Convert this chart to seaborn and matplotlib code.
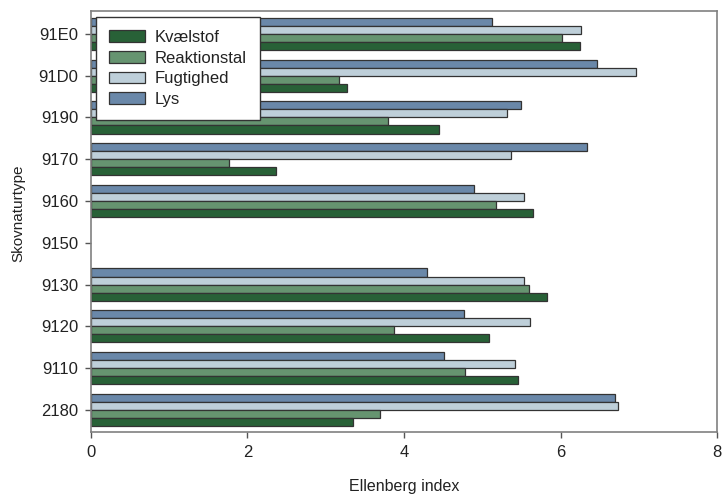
import numpy as np
import pandas as pd
import matplotlib
matplotlib.use("Agg")
import matplotlib.pyplot as plt
import seaborn as sns

# habitat types, top to bottom
types = ["91E0", "91D0", "9190", "9170", "9160", "9150", "9130", "9120", "9110", "2180"]

kvaelstof = [6.25, 3.27, 4.45, 2.36, 5.65, np.nan, 5.83, 5.09, 5.46, 3.35]
reaktionstal = [6.02, 3.17, 3.79, 1.76, 5.18, np.nan, 5.60, 3.87, 4.78, 3.69]
fugtighed = [6.26, 6.96, 5.31, 5.37, 5.53, np.nan, 5.53, 5.61, 5.42, 6.73]
lys = [5.12, 6.47, 5.49, 6.34, 4.89, np.nan, 4.29, 4.77, 4.51, 6.70]

series = ["Kvælstof", "Reaktionstal", "Fugtighed", "Lys"]
colors = {"Kvælstof": "#1f6a33", "Reaktionstal": "#5e9c6c",
          "Fugtighed": "#b9d0de", "Lys": "#5f88b3"}

df = pd.DataFrame({"Skovnaturtype": types, "Kvælstof": kvaelstof,
                   "Reaktionstal": reaktionstal, "Fugtighed": fugtighed, "Lys": lys})
long = df.melt(id_vars="Skovnaturtype", var_name="Serie", value_name="Ellenberg")

sns.set_style("white")
plt.rcParams["font.family"] = ["Liberation Sans", "DejaVu Sans"]
plt.rcParams["text.color"] = "#222222"

fig = plt.figure(figsize=(7.25, 4.96), dpi=100)
ax = fig.add_axes([0.1255, 0.129, 0.8635, 0.849])

sns.barplot(data=long, x="Ellenberg", y="Skovnaturtype", hue="Serie",
            order=types, hue_order=series[::-1], palette=colors,
            orient="h", width=0.77, edgecolor="#333333", linewidth=0.9,
            errorbar=None, ax=ax)

ax.set_xlim(0, 8)
ax.set_ylim(9.53, -0.55)
ax.set_xticks([0, 2, 4, 6, 8])
ax.set_xlabel("Ellenberg index", fontsize=11.5, labelpad=14, color="#222222")
ax.set_ylabel("Skovnaturtype", fontsize=11, color="#222222")
ax.yaxis.set_label_coords(-0.105, 0.52)
ax.tick_params(axis="both", labelsize=12, length=4, width=1, color="#555555",
               labelcolor="#222222", direction="out", pad=5, bottom=True, left=True)

for s in ax.spines.values():
    s.set_color("#808080")
    s.set_linewidth(1.2)

handles, labels = ax.get_legend_handles_labels()
order = [labels.index(s) for s in series]
leg = ax.legend([handles[i] for i in order], [labels[i] for i in order],
                loc="upper left", bbox_to_anchor=(0.008, 0.986), borderaxespad=0,
                fontsize=12, frameon=True, fancybox=False, framealpha=1,
                edgecolor="#333333", handlelength=2.15, handleheight=0.7,
                labelspacing=0.34, borderpad=0.8, handletextpad=0.55)
leg.get_frame().set_linewidth(1.0)

fig.savefig("out.png", dpi=100)
